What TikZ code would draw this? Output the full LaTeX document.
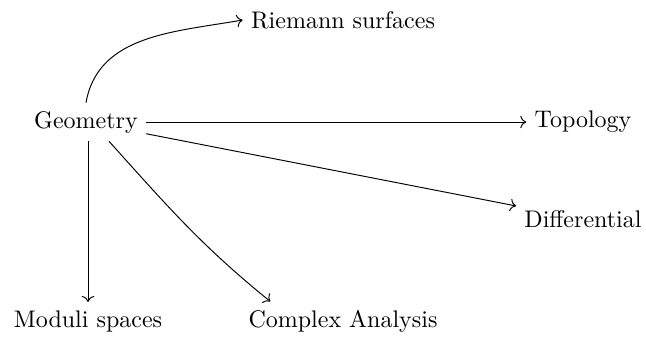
\documentclass[tikz,border=0pt]{standalone}
\usetikzlibrary{arrows.meta,positioning}
\begin{document}
\begin{tikzpicture}[x=0.4167pt, y=-0.4167pt,
  topic/.style={font=\normalsize, inner sep=3.3pt},
  arr/.style={->, line width=0.4pt, draw=black}
]
\useasboundingbox (0,0) rectangle (646,338);
% root
\node[topic] (geom)    at (86,122)  {Geometry};
% targets
\node[topic] (riemann) at (343,20)  {Riemann surfaces};
\node[topic] (topo)    at (583,122) {Topology};
\node[topic] (diff)    at (583,219) {Differential};
\node[topic] (moduli)  at (88,321)  {Moduli spaces};
\node[topic] (complex) at (343,321) {Complex Analysis};

% arrows
\draw[arr] (geom.north) to[out=80, in=190] (riemann.west);
\draw[arr] (geom) -- (topo);
\draw[arr] (geom) -- (diff);
\draw[arr] (geom.south -| moduli) -- (moduli);
\draw[arr] (geom.-40) to[out=-48, in=141] (complex.165);
\end{tikzpicture}
\end{document}
